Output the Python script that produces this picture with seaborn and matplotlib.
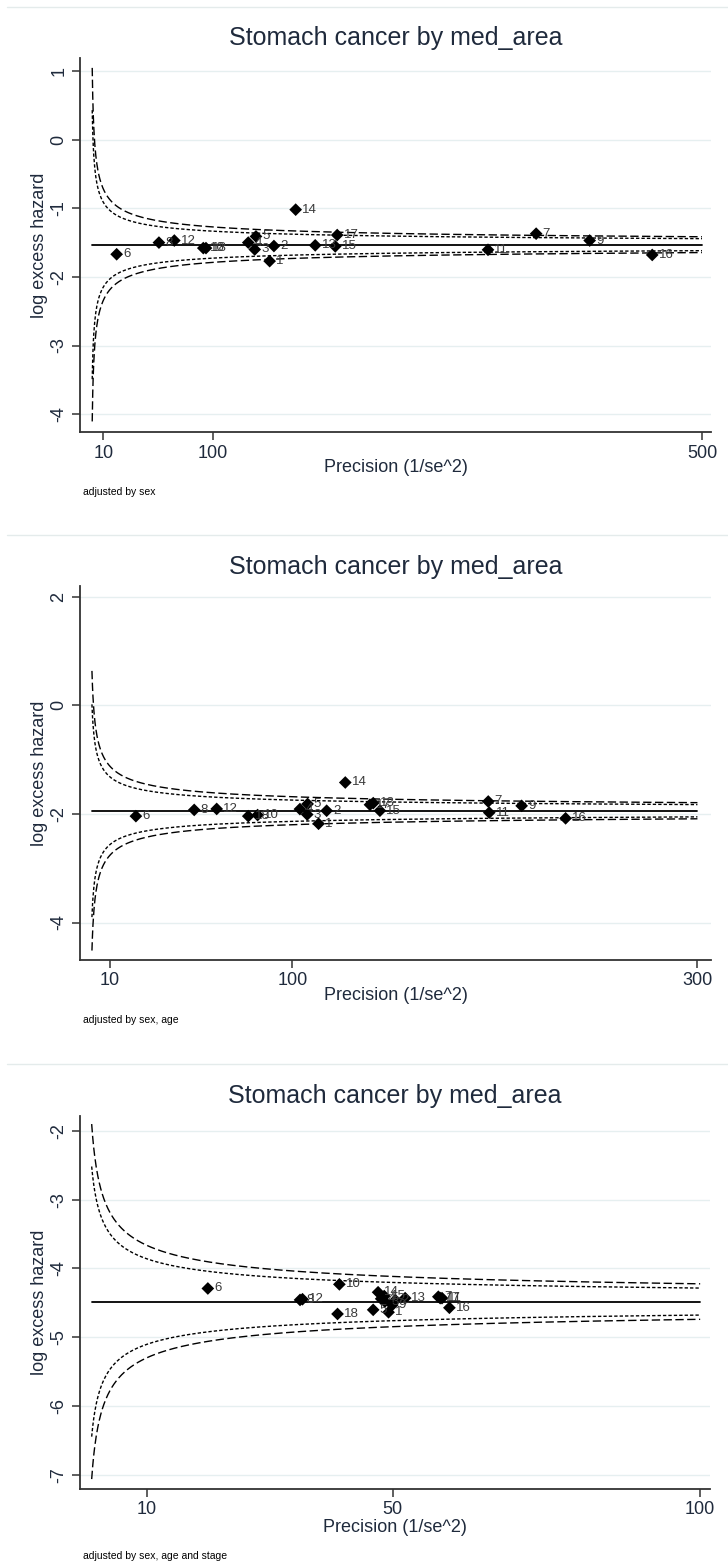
import numpy as np
import pandas as pd
import matplotlib
matplotlib.use("Agg")
import matplotlib.pyplot as plt
import seaborn as sns

sns.set_theme(style="white")
plt.rcParams["font.family"] = ["Liberation Sans", "DejaVu Sans"]

# ---------------- data ----------------
areas = [str(i) for i in range(1, 19)]

prec_sex = [146.2, 149.7, 134.0, 128.7, 135.0, 21.0, 364.3, 55.6, 408.1,
            91.9, 324.9, 68.2, 183.5, 167.5, 199.9, 459.3, 201.5, 94.1]
lhz_sex = [-1.77, -1.55, -1.60, -1.50, -1.41, -1.67, -1.37, -1.50, -1.47,
           -1.58, -1.605, -1.47, -1.54, -1.02, -1.555, -1.68, -1.39, -1.58]
center_sex = -1.53

prec_sexage = [112.9, 116.9, 107.3, 103.7, 107.5, 22.7, 196.7, 51.5, 213.2,
               82.8, 197.2, 62.6, 139.9, 126.1, 143.2, 234.9, 138.3, 78.2]
lhz_sexage = [-2.18, -1.94, -2.01, -1.91, -1.815, -2.04, -1.77, -1.925, -1.85,
              -2.02, -1.975, -1.907, -1.80, -1.42, -1.94, -2.08, -1.83, -2.04]
center_sexage = -1.94

prec_stage = [49.3, 50.4, 48.7, 48.1, 46.8, 19.9, 57.4, 34.9, 49.9,
              41.3, 58.0, 35.3, 52.0, 47.6, 48.6, 59.2, 57.7, 41.0]
lhz_stage = [-4.635, -4.46, -4.48, -4.44, -4.60, -4.29, -4.41, -4.456, -4.53,
             -4.23, -4.43, -4.446, -4.43, -4.345, -4.40, -4.57, -4.43, -4.66]
center_stage = -4.48

title_text = "Stomach cancer by med_area"
notes = ["adjusted by sex", "adjusted by sex, age", "adjusted by sex, age and stage"]
xticks_list = [[10, 100, 500], [10, 100, 300], [10, 50, 100]]
yticks_list = [[1, 0, -1, -2, -3, -4], [2, 0, -2, -4], [-2, -3, -4, -5, -6, -7]]
xlims = [(-9.0, 507.4), (-4.9, 306.7), (-0.9, 101.6)]
ylims = [(-4.26, 1.19), (-4.69, 2.20), (-7.20, -1.787)]
pmax = [500, 300, 100]
z95, z99 = 1.96, 2.576

# ---------------- layout (pixels) ----------------
W, H = 728, 1566
fig = plt.figure(figsize=(W / 100, H / 100), dpi=100)
boxes = [(80, 711, 58, 432), (80, 711, 586, 960), (80, 710, 1116, 1489)]
title_y = [38, 567, 1096]
xlab_off = [36, 36, 38]
note_off = [60, 60, 67]
separators = [7, 535, 1064]

txt_col = "#1f2a3c"
spine_col = "#333333"
grid_col = "#e6eff0"

panels = [(prec_sex, lhz_sex, center_sex),
          (prec_sexage, lhz_sexage, center_sexage),
          (prec_stage, lhz_stage, center_stage)]

for i, (prec, lhz, center) in enumerate(panels):
    l, r, t, b = boxes[i]
    ax = fig.add_axes([l / W, 1 - b / H, (r - l) / W, (b - t) / H])
    ax.set_facecolor("white")
    df = pd.DataFrame({"area": areas, "precision": prec, "loghaz": lhz})

    # funnel limits
    P = np.linspace(1.0, pmax[i], 1200)
    fun = pd.DataFrame({"P": P,
                        "up95": center + z95 / np.sqrt(P), "lo95": center - z95 / np.sqrt(P),
                        "up99": center + z99 / np.sqrt(P), "lo99": center - z99 / np.sqrt(P)})
    for col, dash in [("up95", (2.4, 1.5)), ("lo95", (2.4, 1.5)),
                      ("up99", (6, 2.5)), ("lo99", (6, 2.5))]:
        sns.lineplot(data=fun, x="P", y=col, ax=ax, color="black", lw=1.0,
                     sort=False, estimator=None)
        ax.lines[-1].set_dashes(dash)
    # centre line
    cen = pd.DataFrame({"P": [1.0, pmax[i]], "c": [center, center]})
    sns.lineplot(data=cen, x="P", y="c", ax=ax, color="black", lw=1.3,
                 sort=False, estimator=None)

    sns.scatterplot(data=df, x="precision", y="loghaz", ax=ax, marker="D",
                    color="black", s=42, edgecolor="none", zorder=5)
    for a, xv, yv in zip(df["area"], df["precision"], df["loghaz"]):
        ax.annotate(a, (xv, yv), xytext=(4.5, 0), textcoords="offset points",
                    va="center", ha="left", fontsize=9.5, color="#3a3a3a", zorder=6)

    ax.set_xlim(*xlims[i])
    ax.set_ylim(*ylims[i])
    ax.set_xticks(xticks_list[i])
    ax.set_yticks(yticks_list[i])
    ax.set_yticklabels([str(v) for v in yticks_list[i]], rotation=90, va="center")
    ax.grid(False)
    for yv in yticks_list[i]:
        ax.axhline(yv, color=grid_col, lw=1.0, zorder=0)

    for s in ["top", "right"]:
        ax.spines[s].set_visible(False)
    for s in ["left", "bottom"]:
        ax.spines[s].set_color(spine_col)
        ax.spines[s].set_linewidth(1.3)
    ax.tick_params(axis="both", which="major", direction="out", length=6, width=1.1,
                   color=spine_col, labelsize=13, labelcolor=txt_col, pad=3,
                   left=True, bottom=True)

    ax.set_xlabel("Precision (1/se^2)", fontsize=13, color=txt_col)
    ax.set_ylabel("log excess hazard", fontsize=13, color=txt_col)
    hpx = b - t
    wpx = r - l
    ax.xaxis.set_label_coords(0.5, -xlab_off[i] / hpx)
    ax.xaxis.label.set_va("center")
    ax.yaxis.set_label_coords(-(80 - 40) / wpx, 0.5)
    ax.yaxis.label.set_va("center")

    fig.text((l + r) / 2 / W, 1 - title_y[i] / H, title_text, ha="center", va="center",
             fontsize=18, color=txt_col)
    fig.text(83 / W, 1 - (b + note_off[i]) / H, notes[i], ha="left", va="center",
             fontsize=7.5, color="black")

for yv in separators:
    fig.add_artist(plt.Line2D([7 / W, 1.0], [1 - yv / H, 1 - yv / H], color="#e4ebeb",
                              lw=1.0, transform=fig.transFigure))

fig.savefig("out.png", dpi=100, facecolor="white")
